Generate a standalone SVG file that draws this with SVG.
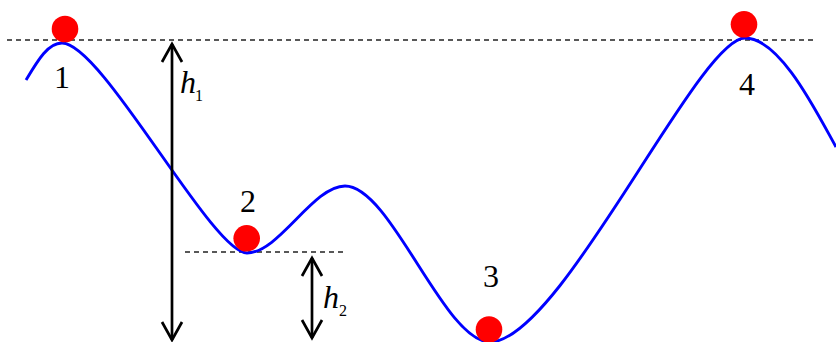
<svg xmlns="http://www.w3.org/2000/svg" width="836" height="342" viewBox="0 0 836 342">
<style>
.dash{stroke:#222;stroke-width:1.3;stroke-dasharray:5,4;fill:none}
.curve{stroke:#0000ff;stroke-width:2.9;fill:none}
.ball{fill:#ff0000}
.arr{stroke:#000;stroke-width:2.7;fill:none;marker-start:url(#ah);marker-end:url(#ah)}
.lbl{font-family:"Liberation Serif","Times New Roman",serif;font-size:32px;fill:#000;text-anchor:middle}
.var{font-family:"Liberation Serif","Times New Roman",serif;font-size:32px;font-style:italic;fill:#000}
.sub{font-family:"Liberation Serif","Times New Roman",serif;font-size:16px;fill:#000}
</style>
<defs>
<marker id="ah" markerUnits="userSpaceOnUse" markerWidth="24" markerHeight="24" viewBox="-2 -2 24 24" refX="18" refY="10" orient="auto-start-reverse">
<path d="M0,0 L18,10 L0,20" fill="none" stroke="#000" stroke-width="2.7"/>
</marker>
</defs>
<g id="guides">
<line class="dash" x1="7" y1="40" x2="816" y2="40"/>
<line class="dash" x1="185" y1="252" x2="347" y2="252"/>
</g>
<g id="landscape">
<path class="curve" d="M26,80 C38,60 48,43 62,43 C102,43 212,253 247,253 C279,253 313,186 345,186 C391,186 444,342 490,342 C560,342 698,38 745,38 C780,38 816,111 836,147"/>
</g>
<g id="connectors">
<line class="arr" x1="172" y1="44" x2="172" y2="340"/>
<line class="arr" x1="312" y1="258" x2="312" y2="338"/>
</g>
<g id="node1">
<circle class="ball" cx="65" cy="29" r="13.3"/>
<text class="lbl" x="62" y="88">1</text>
</g>
<g id="node2">
<circle class="ball" cx="246.7" cy="238.3" r="13.3"/>
<text class="lbl" x="248" y="212">2</text>
</g>
<g id="node3">
<circle class="ball" cx="489" cy="329.5" r="13.3"/>
<text class="lbl" x="491" y="287">3</text>
</g>
<g id="node4">
<circle class="ball" cx="744" cy="24.3" r="13.3"/>
<text class="lbl" x="747" y="95">4</text>
</g>
<g id="label-h1">
<text class="var" x="180" y="93">h</text>
<text class="sub" x="195" y="101">1</text>
</g>
<g id="label-h2">
<text class="var" x="323" y="308">h</text>
<text class="sub" x="339" y="316">2</text>
</g>
</svg>
